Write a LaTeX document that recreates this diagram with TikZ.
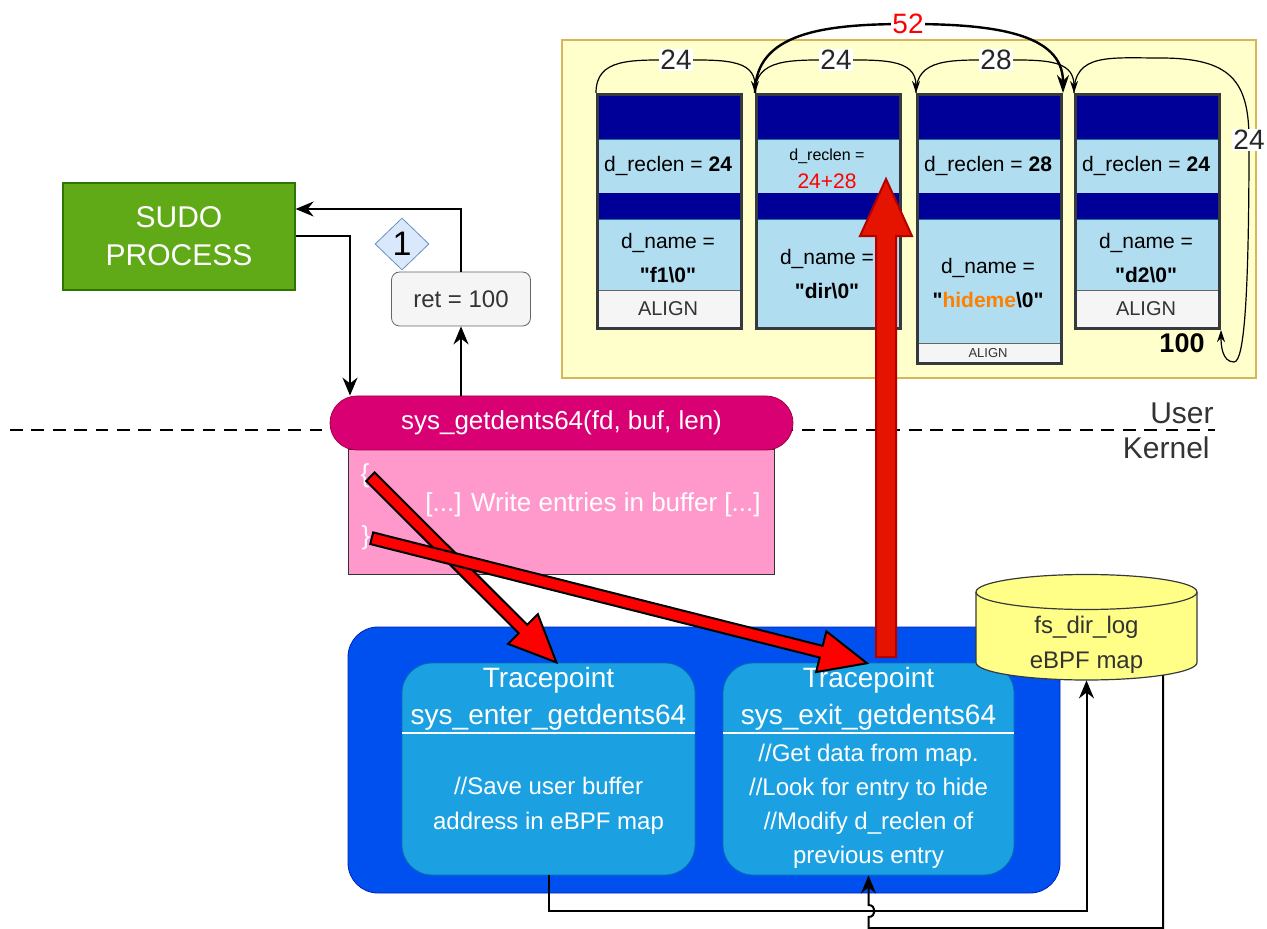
\documentclass[tikz,border=0pt]{standalone}
\usepackage{fontspec}
\setmainfont{Liberation Sans}[Ligatures=TeXOff]
\usetikzlibrary{shapes.geometric, shapes.arrows, arrows.meta, positioning, calc}

\definecolor{sudoGreen}{HTML}{60A917}
\definecolor{sudoEdge}{HTML}{2D7600}
\definecolor{retFill}{HTML}{F5F5F5}
\definecolor{retEdge}{HTML}{666666}
\definecolor{badgeFill}{HTML}{DAE8FC}
\definecolor{badgeEdge}{HTML}{6C8EBF}
\definecolor{callFill}{HTML}{D80073}
\definecolor{callEdge}{HTML}{A50040}
\definecolor{bodyFill}{HTML}{FF99CC}
\definecolor{bufFill}{HTML}{FFFFCC}
\definecolor{bufEdge}{HTML}{D6B656}
\definecolor{hdrFill}{HTML}{000099}
\definecolor{fieldFill}{HTML}{B1DDF0}
\definecolor{fieldEdge}{HTML}{10739E}
\definecolor{entryEdge}{HTML}{36393D}
\definecolor{kernFill}{HTML}{0050EF}
\definecolor{kernEdge}{HTML}{001DBC}
\definecolor{tpFill}{HTML}{1BA1E2}
\definecolor{tpEdge}{HTML}{006EAF}
\definecolor{mapFill}{HTML}{FFFF88}
\definecolor{hideOrange}{HTML}{FF8000}
\definecolor{exitRed}{HTML}{E51400}
\definecolor{exitEdge}{HTML}{B20000}
\definecolor{txtGray}{HTML}{333333}

\begin{document}
\begin{tikzpicture}[x=0.5pt, y=-0.5pt,
  every node/.style={inner sep=0pt},
  sudo/.style={draw=sudoEdge, fill=sudoGreen, text=white, line width=0.6pt,
    minimum width=116pt, minimum height=53.5pt, align=center,
    font=\fontsize{15}{19}\selectfont},
  retbox/.style={draw=retEdge, fill=retFill, text=txtGray, rounded corners=4pt,
    minimum width=69.5pt, minimum height=27pt, font=\fontsize{12}{14}\selectfont},
  badge/.style={diamond, draw=badgeEdge, fill=badgeFill, minimum width=27pt,
    minimum height=26pt, font=\fontsize{17}{19}\selectfont},
  call/.style={draw=callEdge, fill=callFill, text=white, rounded corners=13.5pt,
    minimum width=231.5pt, minimum height=27pt, font=\fontsize{13}{15}\selectfont},
  body/.style={draw=txtGray, fill=bodyFill, minimum width=213pt, minimum height=62.5pt},
  link/.style={line width=1pt, -{Stealth[length=9pt, width=7.5pt]}},
  entry/.style={draw=entryEdge, line width=1.5pt, minimum width=72pt},
  field/.style={align=center, font=\fontsize{10.5}{17}\selectfont},
  hop/.style={line width=0.6pt, -{Stealth[length=6pt, width=4pt]}},
  lbl/.style={fill=white, inner sep=0.5pt, text=black!85, font=\fontsize{14}{16}\selectfont},
  tp/.style={draw=tpEdge, fill=tpFill, rounded corners=15pt,
    minimum width=146.5pt, minimum height=106pt},
  tptext/.style={text=white, align=center},
  redarrow/.style={single arrow, draw=black, fill=red, line width=1pt,
    inner xsep=0pt, inner ysep=2.5pt, single arrow head extend=7.5pt,
    single arrow tip angle=48},
]
\path[use as bounding box] (0,0) rectangle (1267,929);

% user space buffer
\node[draw=bufEdge, fill=bufFill, line width=1.2pt, minimum width=347pt,
  minimum height=169pt] (buf) at (909,209) {};
\foreach \x/\b in {596/290, 755/327, 916/343, 1074/290} {
  \fill[hdrFill] (\x,93) rectangle ++(144,46);
  \draw[fieldEdge, fill=fieldFill] (\x,139) rectangle ++(144,54);
  \fill[hdrFill] (\x,193) rectangle ++(144,26);
  \draw[fieldEdge, fill=fieldFill] (\x,219) rectangle (\x+144,\b);
}
\foreach \x/\t/\b in {596/290/327, 916/343/362, 1074/290/327}
  \draw[retEdge, fill=retFill] (\x,\t) rectangle (\x+144,\b);
\foreach \n/\x/\h in {1/596/234, 2/755/234, 3/916/269, 4/1074/234}
  \node[entry, minimum height=\h*0.5pt, anchor=north west] (e\n) at (\x,93) {};

\node[field] (len1) at (668,166) {d\_reclen = \textbf{24}};
\node[field, font=\fontsize{8}{10}\selectfont] (len2a) at (827,156) {d\_reclen =};
\node[field, text=red] (len2b) at (827,181) {24+28};
\node[field] (len3) at (988,166) {d\_reclen = \textbf{28}};
\node[field] (len4) at (1146,166) {d\_reclen = \textbf{24}};
\node[field] (name1) at (668,258) {d\_name =\\\textbf{"f1\textbackslash 0"}};
\node[field] (name2) at (827,274) {d\_name =\\\textbf{"dir\textbackslash 0"}};
\node[field] (name3) at (988,283) {d\_name =\\\textbf{"\textcolor{hideOrange}{hideme}\textbackslash 0"}};
\node[field] (name4) at (1146,258) {d\_name =\\\textbf{"d2\textbackslash 0"}};
\node[field, text=txtGray, font=\fontsize{10}{12}\selectfont] (pad1) at (668,309) {ALIGN};
\node[field, text=txtGray, font=\fontsize{6.5}{8}\selectfont] (pad3) at (988,353) {ALIGN};
\node[field, text=txtGray, font=\fontsize{10}{12}\selectfont] (pad4) at (1146,309) {ALIGN};

% record lengths
\draw[hop] (e1.north west) .. controls +(0,-35) and +(-45,0) .. (676,60)
  node[lbl] (d1) {24} .. controls +(45,0) and +(0,-35) .. (e2.north west);
\draw[hop] (e2.north west) .. controls +(0,-35) and +(-45,0) .. (836,60)
  node[lbl] (d2) {24} .. controls +(45,0) and +(0,-35) .. (e3.north west);
\draw[hop] (e3.north west) .. controls +(0,-35) and +(-45,0) .. (996,60)
  node[lbl] (d3) {28} .. controls +(45,0) and +(0,-35) .. (e4.north west);
\draw[line width=1.2pt, -{Stealth[length=9pt, width=6pt]}] (e2.north west)
  .. controls +(0,-60) and +(-85,0) .. (908,24) node[lbl, text=red] (d52) {52}
  .. controls +(85,0) and +(0,-60) .. (e3.north east);
\draw[hop] (e4.north west) .. controls +(0,-40) and +(-50,0) .. (1160,58)
  .. controls +(70,0) and +(0,-60) .. (1249,140) node[lbl] (d4) {24}
  .. controls +(0,160) and +(10,0) .. (1234,362)
  .. controls +(-12,0) and +(0,15) .. (e4.south east);
\node[font=\fontsize{13.5}{16}\selectfont\bfseries] (total) at (1182,343) {100};

% user / kernel boundary
\draw[line width=1.4pt, dash pattern=on 6.4pt off 4.3pt] (10,430) -- (1215,430);
\node[anchor=east, text=txtGray, font=\fontsize{15}{18}\selectfont] (user) at (1214,413) {User};
\node[anchor=east, text=txtGray, font=\fontsize{15}{18}\selectfont] (kernel) at (1210,448) {Kernel};

% process and syscall
\node[sudo] (sudo) at (179,236.5) {SUDO\\PROCESS};
\node[body] (sysbody) at (561,511.5) {};
\node[call] (sys) at (561.5,423) {sys\_getdents64(fd, buf, len)};
\node[text=white, font=\fontsize{13}{15}\selectfont] (open) at (365,476) {\{};
\node[text=white, font=\fontsize{13}{15}\selectfont] (close) at (366,538) {\}};
\node[text=white, font=\fontsize{13}{15}\selectfont] (write) at (593,505)
  {[...] Write entries in buffer [...]};
\node[retbox] (ret) at (461,299) {ret = 100};
\node[badge] (one) at (402,244) {1};

\draw[link] (sudo.east) -| ([xshift=-105.75pt]sys.north);
\draw[link] (ret.south |- sys.north) -- (ret.south);
\draw[link] (ret.north) |- ([yshift=13.75pt]sudo.east);

% kernel side
\node[draw=kernEdge, fill=kernFill, rounded corners=15pt, minimum width=356pt,
  minimum height=133pt] (kern) at (704,760) {};
\node[tp] (enter) at (548.5,769) {};
\node[tp, minimum width=145.5pt] (exit) at (868.5,769) {};
\draw[white, line width=1.2pt] (enter.west |- 0,733) -- (enter.east |- 0,733);
\draw[white, line width=1.2pt] (exit.west |- 0,733) -- (exit.east |- 0,733);
\node[tptext, font=\fontsize{14}{18.5}\selectfont] (entert) at (548.5,699)
  {Tracepoint\\sys\_enter\_getdents64};
\node[tptext, font=\fontsize{12}{17.5}\selectfont] (enterb) at (548.5,806)
  {//Save user buffer\\address in eBPF map};
\node[tptext, font=\fontsize{14}{18.5}\selectfont] (exitt) at (868.5,699)
  {Tracepoint\\sys\_exit\_getdents64};
\node[tptext, font=\fontsize{12}{17}\selectfont] (exitb) at (868.5,806)
  {//Get data from map.\\//Look for entry to hide\\//Modify d\_reclen of\\previous entry};

% eBPF map
\draw[entryEdge, fill=mapFill, line width=0.6pt] (976,592) -- (976,662.5)
  arc[start angle=180, end angle=0, x radius=110.5, y radius=17.5] -- (1197,592)
  arc[start angle=0, end angle=-180, x radius=110.5, y radius=17.5] -- cycle;
\draw[entryEdge, line width=0.6pt] (976,592)
  arc[start angle=180, end angle=0, x radius=110.5, y radius=17.5];
\node[minimum width=110.5pt, minimum height=53.5pt] (map) at (1086.5,626.5) {};
\node[align=center, text=txtGray, font=\fontsize{12}{17.5}\selectfont] (mapt) at (1086.5,645)
  {fs\_dir\_log\\eBPF map};

\coordinate (low) at (868.5,928);
\draw[link] (enter.south) -- ++(0,36) -| (map.south);
\draw[link] ($(map.south)+(76.5,-5)$) |- (low) -- ++(0,-11)
  .. controls +(8,0) and +(8,0) .. ++(0,-12) -- (exit.south);

% red arrows
\coordinate (hit1) at (556,662);
\coordinate (hit2) at (866,663);
\coordinate (from3) at (886,658);
\coordinate (hit3) at (886,180);
\path let \p1=($(hit1)-(open.east)$), \n1={veclen(\x1,\y1)}, \n2={atan2(\y1,\x1)} in
  node[redarrow, anchor=tail, minimum height=\n1, rotate=\n2] (ra1) at (open.east) {};
\path let \p1=($(hit2)-(close.east)$), \n1={veclen(\x1,\y1)}, \n2={atan2(\y1,\x1)} in
  node[redarrow, anchor=tail, minimum height=\n1, rotate=\n2] (ra2) at (close.east) {};
\path let \p1=($(hit3)-(from3)$), \n1={veclen(\x1,\y1)}, \n2={atan2(\y1,\x1)} in
  node[redarrow, fill=exitRed, draw=exitEdge, inner ysep=4.5pt,
    single arrow head extend=8pt, single arrow tip angle=49,
    anchor=tail, minimum height=\n1, rotate=\n2] (ra3) at (from3) {};
\end{tikzpicture}
\end{document}
